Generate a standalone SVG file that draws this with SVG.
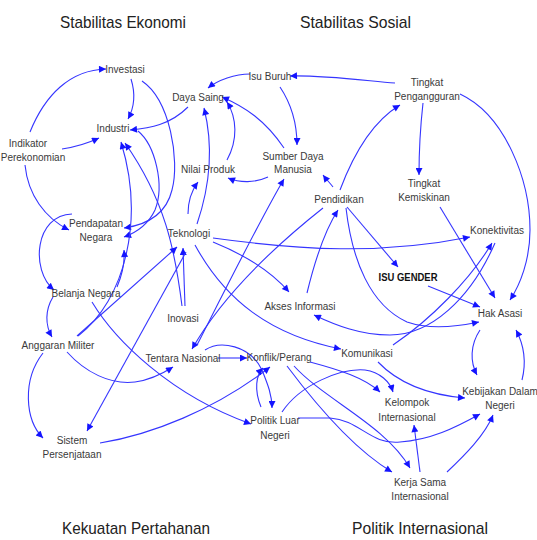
<svg xmlns="http://www.w3.org/2000/svg" width="537" height="540" viewBox="0 0 537 540">
<style>
.t{font-family:"Liberation Sans",Arial,sans-serif;font-size:10px;fill:#3a3a3a;text-anchor:middle}
.h{font-family:"Liberation Sans",Arial,sans-serif;font-size:17px;fill:#222}
.b{font-weight:bold;font-size:11px;fill:#111}
#edges path{fill:none;stroke:#3535ff;stroke-width:1.1;marker-end:url(#ah)}
</style>
<defs>
<marker id="ah" viewBox="0 0 10 10" refX="10" refY="5" markerWidth="10" markerHeight="7" markerUnits="userSpaceOnUse" orient="auto">
<path d="M0,0 L10,5 L0,10 z" fill="#1414ff"/>
</marker>
</defs>
<rect width="537" height="540" fill="#fff"/>
<g id="titles">
<text class="h" x="60" y="28" textLength="126" lengthAdjust="spacingAndGlyphs">Stabilitas Ekonomi</text>
<text class="h" x="300" y="28" textLength="111" lengthAdjust="spacingAndGlyphs">Stabilitas Sosial</text>
<text class="h" x="62" y="534" textLength="148" lengthAdjust="spacingAndGlyphs">Kekuatan Pertahanan</text>
<text class="h" x="352" y="534" textLength="136" lengthAdjust="spacingAndGlyphs">Politik Internasional</text>
</g>
<g id="edges">
<path d="M30,132 C45,95 70,70 106,69"/>
<path d="M62,149 Q82,146 99,138"/>
<path d="M25,165 C28,195 45,218 69,230"/>
<path d="M131,79 C136,95 134,108 128,119"/>
<path d="M142,81 C170,100 180,160 172,190 C166,215 145,225 124,228"/>
<path d="M138,131 C155,145 165,185 155,210 C148,225 135,233 124,237"/>
<path d="M188,107 C170,125 150,128 130,130"/>
<path d="M78,336 C125,300 145,220 121,142"/>
<path d="M182,306 C175,250 165,200 125,143"/>
<path d="M185,306 L183,248"/>
<path d="M197,224 C212,180 212,140 204,108"/>
<path d="M188,214 C188,200 192,190 198,182"/>
<path d="M213,238 C300,250 380,255 470,237"/>
<path d="M213,242 C245,255 270,270 289,292"/>
<path d="M195,245 C225,300 270,335 341,349"/>
<path d="M186,252 L87,431"/>
<path d="M77,336 L177,247"/>
<path d="M53,297 C45,310 45,325 52,337"/>
<path d="M72,214 C35,215 30,270 54,290"/>
<path d="M117,287 C122,275 125,262 124,250"/>
<path d="M92,302 C115,340 170,395 251,424"/>
<path d="M67,352 C85,372 110,385 135,382 C150,380 162,374 173,367"/>
<path d="M43,353 C22,380 25,420 43,438"/>
<path d="M100,443 C150,435 215,410 270,367"/>
<path d="M218,358 L247,358"/>
<path d="M205,350 C220,340 250,345 262,370 C268,385 272,395 272,408"/>
<path d="M261,407 C254,390 256,375 263,368"/>
<path d="M310,362 C340,370 365,378 380,392"/>
<path d="M282,412 C300,385 340,368 365,370 C380,372 390,382 393,392"/>
<path d="M298,418 L330,418 C360,420 370,445 400,442 C430,440 455,428 480,414"/>
<path d="M287,366 C320,410 355,450 392,472"/>
<path d="M294,366 C325,400 385,425 410,468"/>
<path d="M420,472 L414,425"/>
<path d="M447,472 C465,455 485,435 493,415"/>
<path d="M378,362 C400,385 430,395 465,398"/>
<path d="M393,345 C430,320 470,280 492,243"/>
<path d="M495,243 C470,300 430,335 390,335 C360,335 335,325 314,315"/>
<path d="M346,208 C352,260 370,305 407,322 C430,330 460,326 479,322"/>
<path d="M307,293 C315,260 325,230 338,210"/>
<path d="M340,190 C355,150 375,120 400,105"/>
<path d="M333,187 C330,183 326,179 323,175"/>
<path d="M323,208 C270,250 220,300 192,349"/>
<path d="M197,345 C225,290 260,220 284,179"/>
<path d="M347,207 L398,267"/>
<path d="M428,286 L480,307"/>
<path d="M440,207 L495,298"/>
<path d="M460,94 C505,115 530,180 530,230 C530,260 520,285 510,300"/>
<path d="M423,103 C420,130 419,150 419,175"/>
<path d="M395,83 C360,80 320,75 290,76"/>
<path d="M250,74 C235,74 218,80 208,88"/>
<path d="M280,87 C292,105 297,125 297,145"/>
<path d="M284,148 C265,120 245,107 222,97"/>
<path d="M268,177 C255,183 240,183 228,178"/>
<path d="M227,160 C238,140 237,118 227,102"/>
<path d="M480,330 C470,345 470,362 477,375"/>
<path d="M522,380 C527,360 524,345 516,330"/>
</g>
<g id="n-investasi"><text class="t" x="125" y="73">Investasi</text></g>
<g id="n-industri"><text class="t" x="113" y="132">Industri</text></g>
<g id="n-indikator"><text class="t" x="28" y="147">Indikator</text><text class="t" x="33" y="161">Perekonomian</text></g>
<g id="n-dayasaing"><text class="t" x="198" y="101">Daya Saing</text></g>
<g id="n-isuburuh"><text class="t" x="270" y="80">Isu Buruh</text></g>
<g id="n-pengangguran"><text class="t" x="427" y="86">Tingkat</text><text class="t" x="427" y="100">Pengangguran</text></g>
<g id="n-sdm"><text class="t" x="293" y="160">Sumber Daya</text><text class="t" x="293" y="173">Manusia</text></g>
<g id="n-nilaiproduk"><text class="t" x="208" y="173">Nilai Produk</text></g>
<g id="n-kemiskinan"><text class="t" x="424" y="187">Tingkat</text><text class="t" x="424" y="201">Kemiskinan</text></g>
<g id="n-pendidikan"><text class="t" x="339" y="203">Pendidikan</text></g>
<g id="n-konektivitas"><text class="t" x="497" y="234">Konektivitas</text></g>
<g id="n-isugender"><text class="t b" x="408" y="281" textLength="59" lengthAdjust="spacingAndGlyphs">ISU GENDER</text></g>
<g id="n-hakasasi"><text class="t" x="500" y="317">Hak Asasi</text></g>
<g id="n-pendapatan"><text class="t" x="96" y="227">Pendapatan</text><text class="t" x="96" y="241">Negara</text></g>
<g id="n-teknologi"><text class="t" x="189" y="237">Teknologi</text></g>
<g id="n-belanja"><text class="t" x="86" y="297">Belanja Negara</text></g>
<g id="n-akses"><text class="t" x="300" y="310">Akses Informasi</text></g>
<g id="n-inovasi"><text class="t" x="183" y="322">Inovasi</text></g>
<g id="n-anggaran"><text class="t" x="58" y="349">Anggaran Militer</text></g>
<g id="n-tentara"><text class="t" x="183" y="362">Tentara Nasional</text></g>
<g id="n-konflik"><text class="t" x="279" y="361">Konflik/Perang</text></g>
<g id="n-komunikasi"><text class="t" x="367" y="357">Komunikasi</text></g>
<g id="n-kelompok"><text class="t" x="407" y="406">Kelompok</text><text class="t" x="407" y="421">Internasional</text></g>
<g id="n-kebijakan"><text class="t" x="500" y="395">Kebijakan Dalam</text><text class="t" x="500" y="409">Negeri</text></g>
<g id="n-politikluar"><text class="t" x="275" y="424">Politik Luar</text><text class="t" x="275" y="439">Negeri</text></g>
<g id="n-sistem"><text class="t" x="72" y="444">Sistem</text><text class="t" x="72" y="458">Persenjataan</text></g>
<g id="n-kerjasama"><text class="t" x="420" y="486">Kerja Sama</text><text class="t" x="420" y="500">Internasional</text></g>
</svg>
